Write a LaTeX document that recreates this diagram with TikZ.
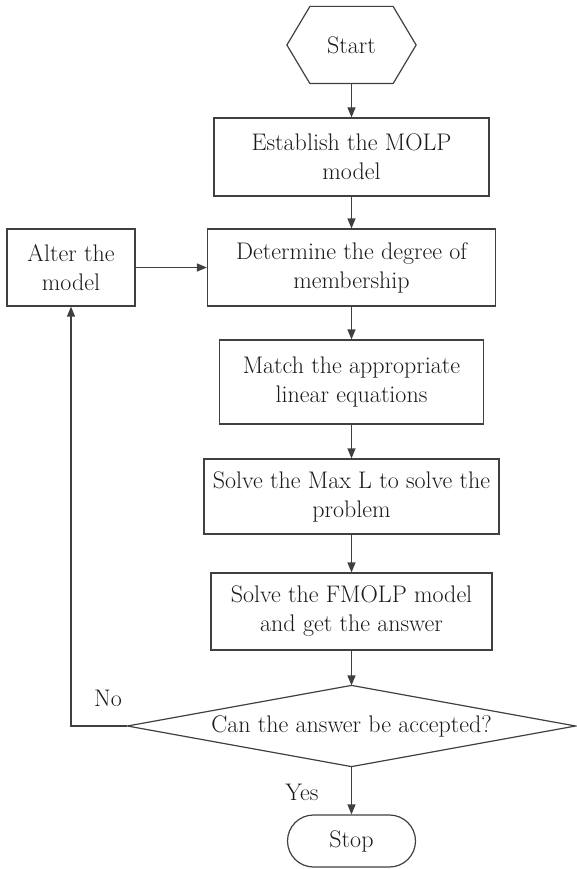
\documentclass[tikz,border=0pt]{standalone}
\usetikzlibrary{arrows.meta}
\definecolor{linec}{HTML}{404040}
\definecolor{textc}{HTML}{1A1A1A}
\tikzset{
  every picture/.style={x=1pt,y=1pt},
  boxnode/.style={draw=linec, line width=1.2pt, align=center, inner sep=0pt,
    font=\fontsize{24}{29}\selectfont, text=textc},
  ghost/.style={boxnode, draw=none},
  arr/.style={draw=linec, line width=1.2pt, -{Triangle[length=10pt,width=8pt]}},
  lbl/.style={font=\fontsize{24}{29}\selectfont, text=textc, inner sep=0pt}
}
\begin{document}
\begin{tikzpicture}
\useasboundingbox (0,0) rectangle (576,-869);
% Start (hexagon)
\node[ghost, minimum width=128pt, minimum height=76pt] (start) at (351.5,-45) {Start};
\draw[draw=linec, line width=1.2pt] (start.west) -- ([xshift=23pt]start.north west) -- ([xshift=-23pt]start.north east) -- (start.east) -- ([xshift=-23pt]start.south east) -- ([xshift=23pt]start.south west) -- cycle;
% process boxes
\node[boxnode, minimum width=275pt, minimum height=78pt] (b1) at (351.5,-157) {Establish the MOLP\\model};
\node[boxnode, minimum width=288pt, minimum height=77pt] (b2) at (351.5,-267.5) {Determine the degree of\\membership};
\node[boxnode, minimum width=128pt, minimum height=77pt] (alter) at (71,-267.5) {Alter the\\model};
\node[boxnode, minimum width=264pt, minimum height=84pt] (b3) at (351.5,-382) {Match the appropriate\\linear equations};
\node[boxnode, minimum width=295pt, minimum height=75pt] (b4) at (351.5,-496.5) {Solve the Max L to solve the\\problem};
\node[boxnode, minimum width=281pt, minimum height=77pt] (b5) at (351.5,-611.5) {Solve the FMOLP model\\and get the answer};
% decision
\node[ghost, minimum width=447pt, minimum height=80pt] (dec) at (351.5,-726) {Can the answer be accepted?};
\draw[draw=linec, line width=1.2pt] (dec.west) -- (dec.north) -- (dec.east) -- (dec.south) -- cycle;
% stop
\node[boxnode, minimum width=128pt, minimum height=52pt, rounded corners=26pt] (stop) at (351.5,-841) {Stop};
% connectors
\draw[arr] (start.south) -- (b1.north);
\draw[arr] (b1.south) -- (b2.north);
\draw[arr] (b2.south) -- (b3.north);
\draw[arr] (b3.south) -- (b4.north);
\draw[arr] (b4.south) -- (b5.north);
\draw[arr] (b5.south) -- (dec.north);
\draw[arr] (dec.south) -- (stop.north);
\draw[arr] (alter.east) -- (b2.west);
\draw[arr] (dec.west) -| (alter.south);
% labels
\node[lbl] (no) at (108,-698) {No};
\node[lbl] (yes) at (302,-792) {Yes};
\end{tikzpicture}
\end{document}
